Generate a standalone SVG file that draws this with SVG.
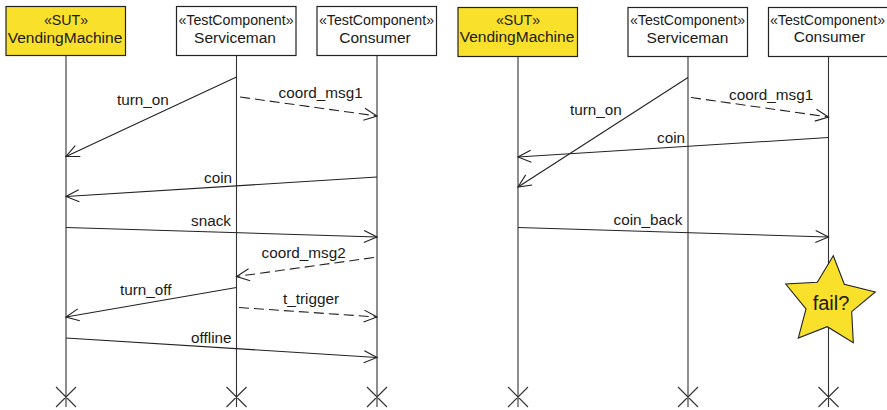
<svg xmlns="http://www.w3.org/2000/svg" width="887" height="410" viewBox="0 0 887 410">
<defs>
<style>
text{font-family:"Liberation Sans",Arial,sans-serif;font-size:15.300px;fill:#1a1a1a}
.m{text-anchor:middle}
.st{font-size:14.200px}
.nm{font-size:15.500px}
.box{stroke:#222;stroke-width:1.2;fill:#fff}
.sut{fill:#f9e02b}
.life{stroke:#333;stroke-width:1.1;fill:none}
.msg{stroke:#222;stroke-width:1.1;fill:none;marker-end:url(#open)}
.dash{stroke-dasharray:10 5}
.x{stroke:#333;stroke-width:1.1;fill:none}
</style>
<marker id="open" markerUnits="userSpaceOnUse" markerWidth="20" markerHeight="20" refX="14" refY="10" orient="auto" viewBox="0 0 20 20">
<path d="M1 4L14 10L1 16" fill="none" stroke="#222" stroke-width="1.1"/>
</marker>
</defs>
<g id="lifelines" class="life">
<path d="M66 55V407M236.500 55V407M377 55V407M518 56V407M688 56V407M828.500 56V407"/>
<path class="x" d="M56 387L76 407M76 387L56 407M226.500 387L246.500 407M246.500 387L226.500 407M367 387L387 407M387 387L367 407M508 387L528 407M528 387L508 407M678 387L698 407M698 387L678 407M818.500 387L838.500 407M838.500 387L818.500 407"/>
</g>
<g id="sut-left"><rect class="box sut" x="6" y="6.500" width="119.500" height="49"/><text class="m st" x="66" y="24.500">«SUT»</text><text class="m nm" x="65" y="42.500">VendingMachine</text></g>
<g id="serviceman-left"><rect class="box" x="176.500" y="6.500" width="119.500" height="49"/><text class="m st" x="236" y="24.500">«TestComponent»</text><text class="m nm" x="235" y="43">Serviceman</text></g>
<g id="consumer-left"><rect class="box" x="317" y="6.500" width="119.500" height="49"/><text class="m st" x="376.500" y="24.500">«TestComponent»</text><text class="m nm" x="375" y="43">Consumer</text></g>
<g id="sut-right"><rect class="box sut" x="458" y="7.500" width="119.500" height="49"/><text class="m st" x="518" y="25">«SUT»</text><text class="m nm" x="517" y="42">VendingMachine</text></g>
<g id="serviceman-right"><rect class="box" x="628" y="7.500" width="119.500" height="49"/><text class="m st" x="687.500" y="25">«TestComponent»</text><text class="m nm" x="687.500" y="43">Serviceman</text></g>
<g id="consumer-right"><rect class="box" x="768.500" y="7.500" width="119.500" height="49"/><text class="m st" x="827.500" y="25">«TestComponent»</text><text class="m nm" x="829.500" y="42">Consumer</text></g>
<g id="connectors">
<line class="msg" x1="236.500" y1="77" x2="66" y2="156.500"/>
<line class="msg dash" x1="240" y1="97" x2="377" y2="116"/>
<line class="msg" x1="377" y1="177" x2="66" y2="196.500"/>
<line class="msg" x1="66" y1="227.500" x2="377" y2="237"/>
<line class="msg dash" x1="374" y1="257.500" x2="236.500" y2="276.500"/>
<line class="msg" x1="236.500" y1="287.500" x2="66" y2="317"/>
<line class="msg dash" x1="239" y1="307.500" x2="377" y2="317"/>
<line class="msg" x1="66" y1="338" x2="377" y2="357.500"/>
<line class="msg" x1="688" y1="77.500" x2="518" y2="187"/>
<line class="msg dash" x1="691" y1="97.500" x2="828.500" y2="117"/>
<line class="msg" x1="828.500" y1="137.500" x2="518" y2="157"/>
<line class="msg" x1="518" y1="227.500" x2="828.500" y2="237"/>
</g>
<g id="labels">
<text x="117" y="105">turn_on</text>
<text x="278.500" y="98">coord_msg1</text>
<text x="204" y="183">coin</text>
<text x="191" y="226">snack</text>
<text x="261.500" y="258">coord_msg2</text>
<text x="120" y="295">turn_off</text>
<text x="283" y="304">t_trigger</text>
<text x="191" y="343">offline</text>
<text x="570" y="115">turn_on</text>
<text x="729" y="100">coord_msg1</text>
<text x="657" y="143">coin</text>
<text x="613.500" y="225">coin_back</text>
</g>
<g id="fail">
<polygon points="833.300,255.700 844.300,284.300 875.300,292 851.700,311.700 853.300,342.700 827.300,326.700 798.300,338 806,309 785.700,284 817.300,282.300" fill="#f9e02b" stroke="#222" stroke-width="1.1"/>
<text class="m" x="831" y="310" style="font-size:20px">fail?</text>
</g>
</svg>
